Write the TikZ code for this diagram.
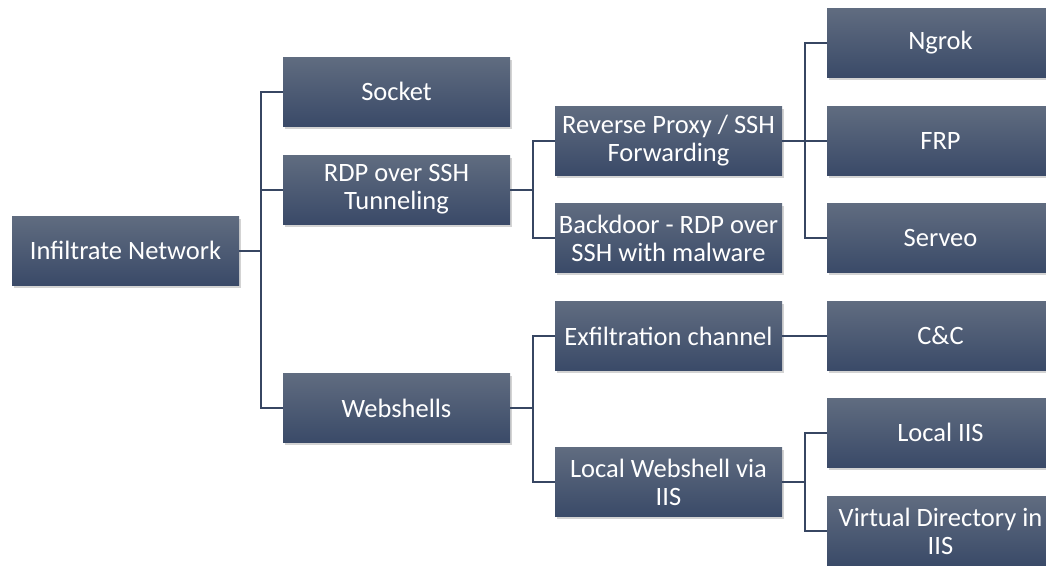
\documentclass[tikz,border=0pt]{standalone}
\usepackage{fontspec}
\setmainfont{Carlito}
\usetikzlibrary{shadows}

\definecolor{boxtop}{RGB}{96,108,128}
\definecolor{boxbot}{RGB}{58,74,104}
\definecolor{linkcol}{RGB}{55,70,98}

\begin{document}
\begin{tikzpicture}[x=1pt,y=-1pt,
	box/.style={rectangle,top color=boxtop,bottom color=boxbot,draw=none,
		minimum width=227pt,minimum height=69pt,inner sep=1pt,align=center,
		text=white,font=\fontsize{26.5}{28}\selectfont,
		drop shadow={shadow xshift=1.5pt,shadow yshift=-2.5pt,opacity=0.35}},
	link/.style={draw=linkcol,line width=2pt}]
			\clip (0,0) rectangle (1046,565);
			\node[box] (N) at (125.5,250.5) {Infiltrate Network};
			\node[box] (S) at (396.5,91.5) {Socket};
			\node[box] (R) at (396.5,189.5) {RDP over SSH\\Tunneling};
			\node[box] (W) at (396.5,408) {Webshells};
			\node[box] (P) at (668.5,140.5) {Reverse Proxy / SSH\\Forwarding};
			\node[box] (B) at (668.5,238) {Backdoor - RDP over\\SSH with malware};
			\node[box] (E) at (668.5,336) {Exfiltration channel};
			\node[box] (L) at (668.5,482) {Local Webshell via\\IIS};
			\node[box] (G) at (940.5,43) {Ngrok};
			\node[box] (F) at (940.5,140.5) {FRP};
			\node[box] (V) at (940.5,238) {Serveo};
			\node[box] (C) at (940.5,336) {C\&C};
			\node[box] (I) at (940.5,432.5) {Local IIS};
			\node[box] (D) at (940.5,531) {Virtual Directory in\\IIS};
			\draw[link](S.west)--++(-22,0)|-(N.east);
			\draw[link](R.west)--++(-22,0)|-(N.east);
			\draw[link](W.west)--++(-22,0)|-(N.east);
			\draw[link](P.west)--++(-22,0)|-(R.east);
			\draw[link](B.west)--++(-22,0)|-(R.east);
			\draw[link](E.west)--++(-22,0)|-(W.east);
			\draw[link](L.west)--++(-22,0)|-(W.east);
			\draw[link](G.west)--++(-22,0)|-(P.east);
			\draw[link](F.west)--(P.east);
			\draw[link](V.west)--++(-22,0)|-(P.east);
			\draw[link](C.west)--(E.east);
			\draw[link](I.west)--++(-22,0)|-(L.east);
			\draw[link](D.west)--++(-22,0)|-(L.east);
		\end{tikzpicture}
\end{document}
